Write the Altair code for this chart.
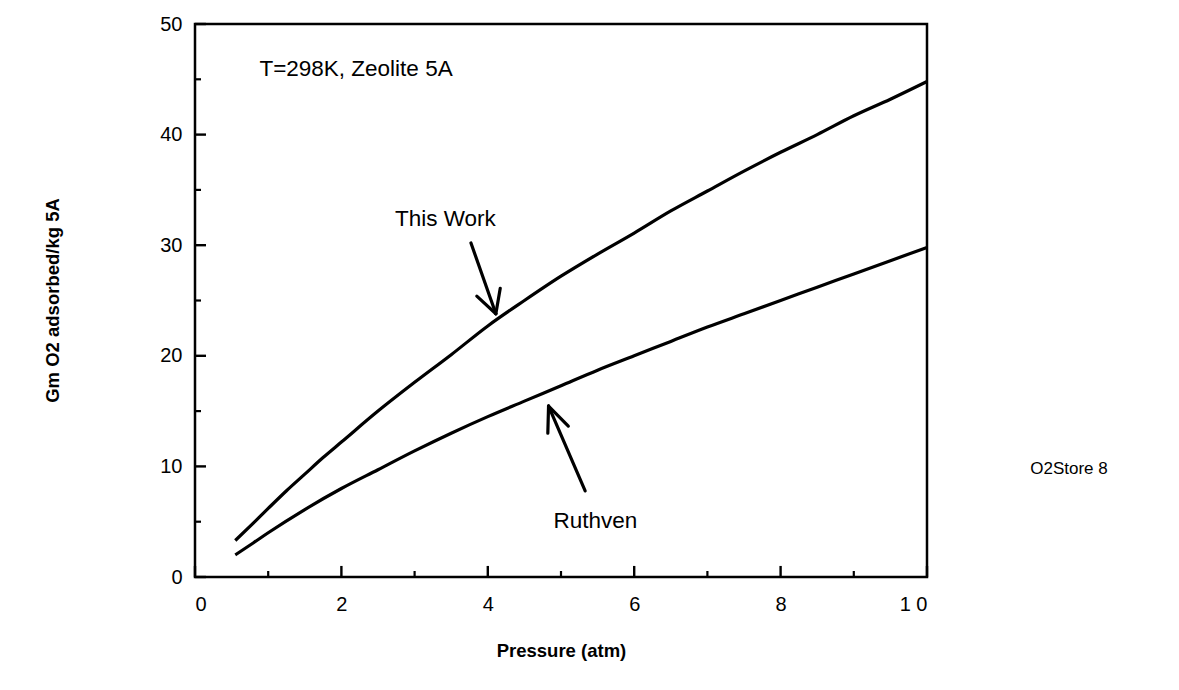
import altair as alt
import pandas as pd

# ---- data ----
pressure_this = [0.55, 0.8, 1.0, 1.25, 1.5, 1.75, 2.0, 2.5, 3.0, 3.5, 4.0, 4.5, 5.0, 5.5, 6.0, 6.5, 7.0, 7.5, 8.0, 8.5, 9.0, 9.5, 10.0]
gm_this = [3.3, 4.9, 6.2, 7.8, 9.3, 10.8, 12.2, 15.0, 17.6, 20.1, 22.7, 25.0, 27.2, 29.2, 31.1, 33.1, 34.9, 36.7, 38.4, 40.0, 41.7, 43.2, 44.8]

pressure_ruth = [0.55, 0.8, 1.0, 1.5, 2.0, 2.5, 3.0, 3.5, 4.0, 4.5, 5.0, 5.5, 6.0, 6.5, 7.0, 7.5, 8.0, 8.5, 9.0, 9.5, 10.0]
gm_ruth = [2.0, 3.1, 4.0, 6.1, 8.0, 9.7, 11.4, 13.0, 14.5, 15.9, 17.3, 18.7, 20.0, 21.3, 22.6, 23.8, 25.0, 26.2, 27.4, 28.6, 29.8]

x_major = [0, 2, 4, 6, 8, 10]
x_minor = [1, 3, 5, 7, 9]
y_major = [0, 10, 20, 30, 40, 50]
y_minor = [5, 15, 25, 35, 45]

# annotation texts and anchor points (data units)
note_text = ["T=298K, Zeolite 5A"]
note_p = [0.88]
note_g = [45.9]

label_text = ["This Work", "Ruthven"]
label_p = [3.42, 5.47]
label_g = [32.4, 5.1]

side_text = ["O2Store 8"]
side_p = [11.94]
side_g = [9.8]

# arrows: shaft + two head wings (start -> end)
arrow_p = [3.77, 4.11, 4.11, 5.33, 4.83, 4.83]
arrow_g = [30.2, 23.8, 23.8, 7.78, 15.46, 15.46]
arrow_p2 = [4.11, 3.85, 4.17, 4.83, 4.82, 5.10]
arrow_g2 = [23.8, 25.4, 26.1, 15.46, 13.0, 13.65]

FONT = "Liberation Sans"
MINOR = 6            # minor tick length (px)
MAJOR_X_LEN = 1.0    # major tick length on the x axis, in y units (~11 px)
MAJOR_Y_LEN = 0.15   # major tick length on the y axis, in x units (~11 px)

curves = pd.DataFrame({
    "p": pressure_this + pressure_ruth,
    "g": gm_this + gm_ruth,
    "series": ["This Work"] * len(pressure_this) + ["Ruthven"] * len(pressure_ruth),
})

xs = alt.Scale(domain=[0, 10], nice=False, zero=False)
ys = alt.Scale(domain=[0, 50], nice=False, zero=False)

lines = alt.Chart(curves).mark_line(
    color="black", strokeWidth=3.2, interpolate="monotone"
).encode(
    x=alt.X("p:Q", scale=xs, axis=alt.Axis(
        values=x_major, title="Pressure (atm)", format="d",
        labelExpr="datum.value == 10 ? '1 0' : datum.label",
        grid=False, domain=False, ticks=False,
        labelPadding=17, titleX=366, titleY=73,
        titleAlign="center", titleBaseline="middle")),
    y=alt.Y("g:Q", scale=ys, axis=alt.Axis(
        values=y_major, title="Gm O2 adsorbed/kg 5A", format="d",
        grid=False, domain=False, ticks=False,
        labelPadding=13, titleX=-143, titleY=276, titleAngle=270,
        titleAlign="center", titleBaseline="middle")),
    detail="series:N",
)

# minor ticks (pixel length)
xt_minor = alt.Chart(pd.DataFrame({"p": x_minor})).mark_rule(
    strokeWidth=2.2, color="black", y2Offset=-MINOR
).encode(x=alt.X("p:Q", scale=xs), y=alt.Y(datum=0, scale=ys), y2=alt.Y2(datum=0))

yt_minor = alt.Chart(pd.DataFrame({"g": y_minor})).mark_rule(
    strokeWidth=2.2, color="black", x2Offset=MINOR
).encode(y=alt.Y("g:Q", scale=ys), x=alt.X(datum=0, scale=xs), x2=alt.X2(datum=0))

# major ticks (segments spanning a short data distance inward)
xt_major = alt.Chart(pd.DataFrame({"tp": [float(v) for v in x_major]})).mark_rule(
    strokeWidth=2.4, color="black"
).encode(
    x=alt.X("tp:Q", scale=xs),
    y=alt.Y(datum=0.0, scale=ys),
    y2=alt.Y2(datum=MAJOR_X_LEN),
)

yt_major = alt.Chart(pd.DataFrame({"tg": [float(v) for v in y_major]})).mark_rule(
    strokeWidth=2.4, color="black"
).encode(
    y=alt.Y("tg:Q", scale=ys),
    x=alt.X(datum=0.0, scale=xs),
    x2=alt.X2(datum=MAJOR_Y_LEN),
)

arrows = alt.Chart(pd.DataFrame({
    "p": arrow_p, "g": arrow_g, "p2": arrow_p2, "g2": arrow_g2
})).mark_rule(color="black", strokeWidth=3.2, strokeCap="round").encode(
    x="p:Q", y="g:Q", x2="p2:Q", y2="g2:Q"
)

note = alt.Chart(pd.DataFrame({"t": note_text, "p": note_p, "g": note_g})).mark_text(
    font=FONT, fontSize=22.5, align="left", baseline="middle", color="black"
).encode(x="p:Q", y="g:Q", text="t:N")

labels = alt.Chart(pd.DataFrame({"t": label_text, "p": label_p, "g": label_g})).mark_text(
    font=FONT, fontSize=22.5, align="center", baseline="middle", color="black"
).encode(x="p:Q", y="g:Q", text="t:N")

side = alt.Chart(pd.DataFrame({"t": side_text, "p": side_p, "g": side_g})).mark_text(
    font=FONT, fontSize=17, align="center", baseline="middle", color="black"
).encode(x="p:Q", y="g:Q", text="t:N")

chart = alt.layer(
    lines, xt_minor, yt_minor, xt_major, yt_major,
    arrows, note, labels, side,
).properties(
    width=732, height=553,
    autosize=alt.AutoSizeParams(type="none"),
    padding={"left": 187, "top": 16, "right": 244, "bottom": 105},
    background="white",
).configure_view(
    stroke="black", strokeWidth=2.5
).configure_axis(
    domain=False, grid=False, ticks=False,
    labelFont=FONT, labelFontSize=20, labelColor="black",
    titleFont=FONT, titleFontWeight="bold", titleFontSize=18.5, titleColor="black",
)

chart.save("out.html", embed_options={"renderer": "svg", "actions": False})
